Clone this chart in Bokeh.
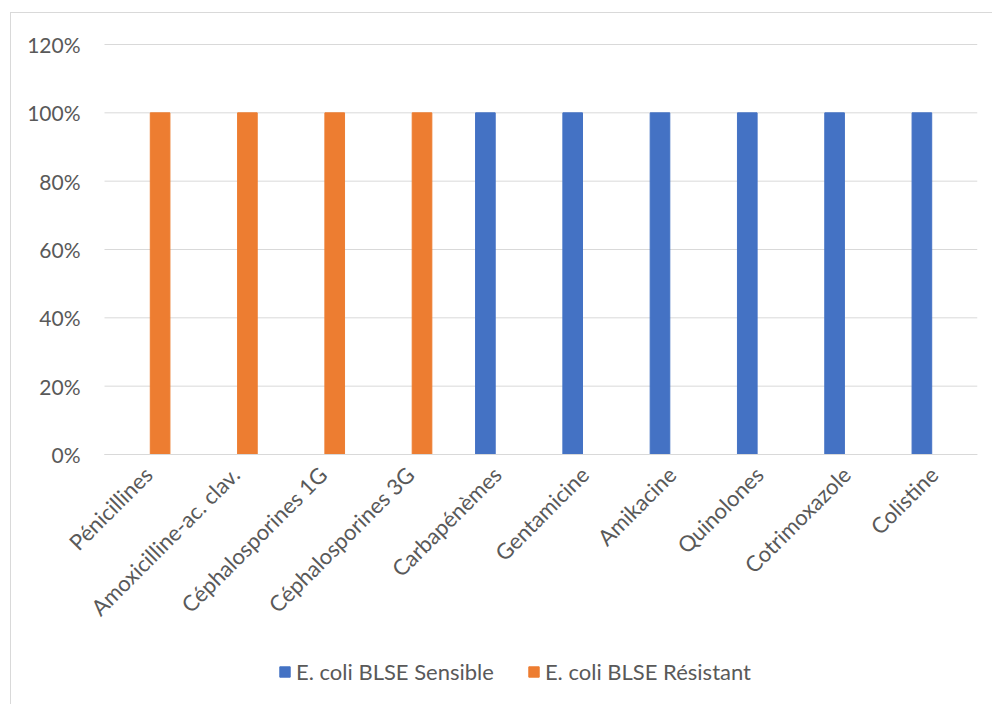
import math
from bokeh.plotting import figure
from bokeh.models import (ColumnDataSource, Range1d, FixedTicker,
                          NumeralTickFormatter, Legend, LegendItem)
from bokeh.transform import dodge
from bokeh.embed import file_html
from bokeh.resources import INLINE

categories = ["Pénicillines", "Amoxicilline-ac. clav.", "Céphalosporines 1G",
              "Céphalosporines 3G", "Carbapénèmes", "Gentamicine", "Amikacine",
              "Quinolones", "Cotrimoxazole", "Colistine"]
sensible = [0, 0, 0, 0, 1.0, 1.0, 1.0, 1.0, 1.0, 1.0]
resistant = [1.0, 1.0, 1.0, 1.0, 0, 0, 0, 0, 0, 0]
y_ticks = [0, 0.2, 0.4, 0.6, 0.8, 1.0, 1.2]
series_names = ["E. coli BLSE Sensible", "E. coli BLSE Résistant"]

FONT = "Lato"
TXT = "#595959"
GRID = "#D9D9D9"

# category slots 1..n on a numeric scale (one unit per category)
pos = list(range(1, len(categories) + 1))
n = len(categories)

# plot area geometry (pixels): 873 px for the categories, 93 px left for labels,
# 410 px for 0..120 %, 31 px above, 251 px under the 0 line for labels and legend
px_x = 873 / n
px_y = 410 / 1.2
x_lo = 0.5 - 93 / px_x
y_lo = -251 / px_y
y_hi = 1.2 + 31 / px_y

src = ColumnDataSource(dict(pos=pos, cat=categories, sens=sensible, res=resistant))
grid_src = ColumnDataSource(dict(y=y_ticks, x0=[0.5] * len(y_ticks),
                                 x1=[n + 0.5] * len(y_ticks)))

p = figure(width=982, height=692, output_backend="svg", toolbar_location=None,
           x_range=Range1d(x_lo, n + 0.5), y_range=Range1d(y_lo, y_hi),
           min_border_left=0, min_border_top=0, min_border_right=16,
           min_border_bottom=0)
p.margin = (12, 0, 0, 10)
p.styles = {"border-left": "1px solid #D9D9D9", "border-top": "1px solid #D9D9D9"}
p.outline_line_color = None
p.background_fill_color = "white"
p.border_fill_color = "white"
p.grid.visible = False

p.segment(x0="x0", x1="x1", y0="y", y1="y", source=grid_src,
          line_color=GRID, line_width=1)

r1 = p.vbar(x=dodge("pos", -0.137), top="sens", width=0.225,
            source=src, color="#4472C4")
r2 = p.vbar(x=dodge("pos", 0.137), top="res", width=0.225,
            source=src, color="#ED7D31")

p.yaxis.fixed_location = 0.5
p.yaxis.ticker = FixedTicker(ticks=y_ticks)
p.yaxis.formatter = NumeralTickFormatter(format="0%")
p.yaxis.axis_line_color = None
p.yaxis.major_tick_line_color = None
p.yaxis.minor_tick_line_color = None
p.yaxis.major_label_standoff = 18
p.yaxis.major_label_text_font = FONT
p.yaxis.major_label_text_font_size = "21px"
p.yaxis.major_label_text_color = TXT

p.xaxis.fixed_location = 0
p.xaxis.bounds = (0.5, n + 0.5)
p.xaxis.ticker = FixedTicker(ticks=pos)
p.xaxis.major_label_overrides = {k: c for k, c in zip(pos, categories)}
p.xaxis.axis_line_color = GRID
p.xaxis.major_tick_line_color = None
p.xaxis.minor_tick_line_color = None
p.xaxis.major_label_orientation = math.pi / 4
p.xaxis.major_label_standoff = 10
p.xaxis.major_label_text_font = FONT
p.xaxis.major_label_text_font_size = "22px"
p.xaxis.major_label_text_color = TXT

legend = Legend(items=[LegendItem(label=series_names[0], renderers=[r1]),
                       LegendItem(label=series_names[1], renderers=[r2])],
                location=(267, 20), orientation="horizontal",
                glyph_width=13, glyph_height=13, label_standoff=5, spacing=33,
                padding=0, margin=0, border_line_color=None,
                background_fill_alpha=0,
                label_text_font=FONT, label_text_font_size="22px",
                label_text_color=TXT)
p.add_layout(legend)

open("out.html", "w").write(file_html(p, INLINE))
